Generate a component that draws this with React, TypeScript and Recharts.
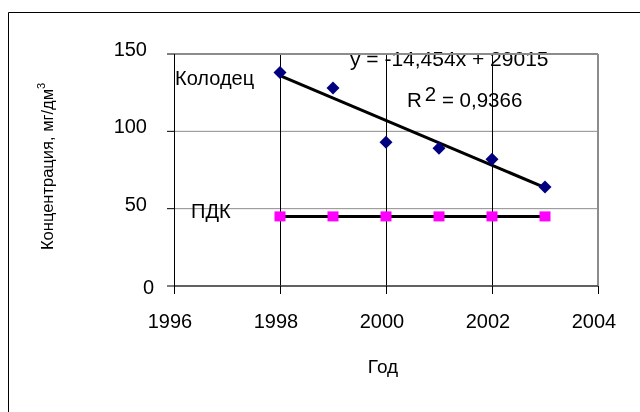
import React from 'react';
import { ComposedChart, Line, XAxis, YAxis, CartesianGrid, ReferenceLine, Customized } from 'recharts';

const years = [1998, 1999, 2000, 2001, 2002, 2003];
const wellValues = [138, 128, 93, 89, 82, 64];
const pdkValues = [45, 45, 45, 45, 45, 45];
const trendYears = [1998, 2003];
const trendValues = [136, 63.6];
const xTicks = [1996, 1998, 2000, 2002, 2004];
const yTicks = [0, 50, 100, 150];

const wellLabel = 'Колодец';
const pdkLabel = 'ПДК';
const equationText = 'y = -14,454x + 29015';
const r2Value = ' = 0,9366';
const xTitle = 'Год';
const yTitle = 'Концентрация, мг/дм';

const FONT = '"Liberation Sans", Arial, sans-serif';

const data = years.map((year, i) => {
  const ti = trendYears.indexOf(year);
  return {
    year,
    well: wellValues[i],
    pdk: pdkValues[i],
    trend: ti >= 0 ? trendValues[ti] : null,
  };
});

const Diamond = (props: any) => {
  const { cx, cy } = props;
  if (cx == null || cy == null) return null;
  const r = 6.5;
  return (
    <polygon
      key={`d-${cx}`}
      points={`${cx},${cy - r} ${cx + r},${cy} ${cx},${cy + r} ${cx - r},${cy}`}
      fill="#000080"
    />
  );
};

const Square = (props: any) => {
  const { cx, cy } = props;
  if (cx == null || cy == null) return null;
  return <rect key={`s-${cx}`} x={cx - 5.5} y={cy - 5} width={11} height={10} fill="#FF00FF" />;
};

const XTick = (props: any) => {
  const { x, y, payload } = props;
  return (
    <text x={x - 4} y={y} dy={15} textAnchor="middle" fontFamily={FONT} fontSize={20} fill="#000">
      {payload.value}
    </text>
  );
};

const YTick = (props: any) => {
  const { x, y, payload } = props;
  const isZero = payload.value === 0;
  return (
    <text
      x={isZero ? x + 7 : x}
      y={y}
      dy={isZero ? 8 : 2}
      textAnchor="end"
      fontFamily={FONT}
      fontSize={20}
      fill="#000"
    >
      {payload.value}
    </text>
  );
};

const Annotations = () => (
  <g fontFamily={FONT} fill="#000">
    <text x={175} y={85} fontSize={20}>{wellLabel}</text>
    <text x={350} y={66} fontSize={21}>{equationText}</text>
    <text x={407} y={107} fontSize={20.5}>
      R<tspan dx={3} dy={-6}>2</tspan>
      <tspan dy={6}>{r2Value}</tspan>
    </text>
    <text x={191} y={218} fontSize={20}>{pdkLabel}</text>
    <text x={383} y={373} fontSize={19} textAnchor="middle">{xTitle}</text>
    <text x={53} y={250} fontSize={16.5} transform="rotate(-90 53 250)">
      {yTitle}
      <tspan fontSize={11} dy={-8}>3</tspan>
    </text>
    <line x1={8.5} y1={12.5} x2={640} y2={12.5} stroke="#000" strokeWidth={1} />
    <line x1={8.5} y1={12.5} x2={8.5} y2={412} stroke="#000" strokeWidth={1} />
  </g>
);

export default function App() {
  return (
    <div style={{ position: 'fixed', left: 0, top: 0, width: 640, height: 412, overflow: 'hidden' }}>
      <ComposedChart
        width={640}
        height={412}
        data={data}
        margin={{ top: 54, right: 42, bottom: 86, left: 114 }}
      >
        <CartesianGrid vertical={false} stroke="#8c8c8c" strokeWidth={1} />
        {xTicks.slice(1, -1).map((t) => (
          <ReferenceLine key={t} x={t} stroke="#000" strokeWidth={1} shapeRendering="crispEdges" />
        ))}
        <ReferenceLine x={xTicks[xTicks.length - 1]} stroke="#8c8c8c" strokeWidth={2} />
        <ReferenceLine y={yTicks[yTicks.length - 1]} stroke="#8c8c8c" strokeWidth={2} />
        <XAxis
          type="number"
          dataKey="year"
          domain={[xTicks[0], xTicks[xTicks.length - 1]]}
          ticks={xTicks}
          interval={0}
          height={40}
          tickSize={8}
          tickMargin={19}
          axisLine={{ stroke: '#404040', strokeWidth: 1.5 }}
          tickLine={{ stroke: '#000', shapeRendering: 'crispEdges' }}
          tick={<XTick />}
        />
        <YAxis
          type="number"
          domain={[yTicks[0], yTicks[yTicks.length - 1]]}
          ticks={yTicks}
          interval={0}
          width={60}
          tickSize={7}
          tickMargin={20}
          axisLine={{ stroke: '#000', strokeWidth: 1, shapeRendering: 'crispEdges' }}
          tickLine={{ stroke: '#000' }}
          tick={<YTick />}
        />
        <Line
          dataKey="trend"
          connectNulls
          stroke="#000"
          strokeWidth={3}
          dot={false}
          activeDot={false}
          isAnimationActive={false}
        />
        <Line
          dataKey="pdk"
          stroke="#000"
          strokeWidth={3}
          dot={<Square />}
          activeDot={false}
          isAnimationActive={false}
        />
        <Line
          dataKey="well"
          stroke="none"
          dot={<Diamond />}
          activeDot={false}
          isAnimationActive={false}
        />
        <Customized component={Annotations} />
      </ComposedChart>
    </div>
  );
}
